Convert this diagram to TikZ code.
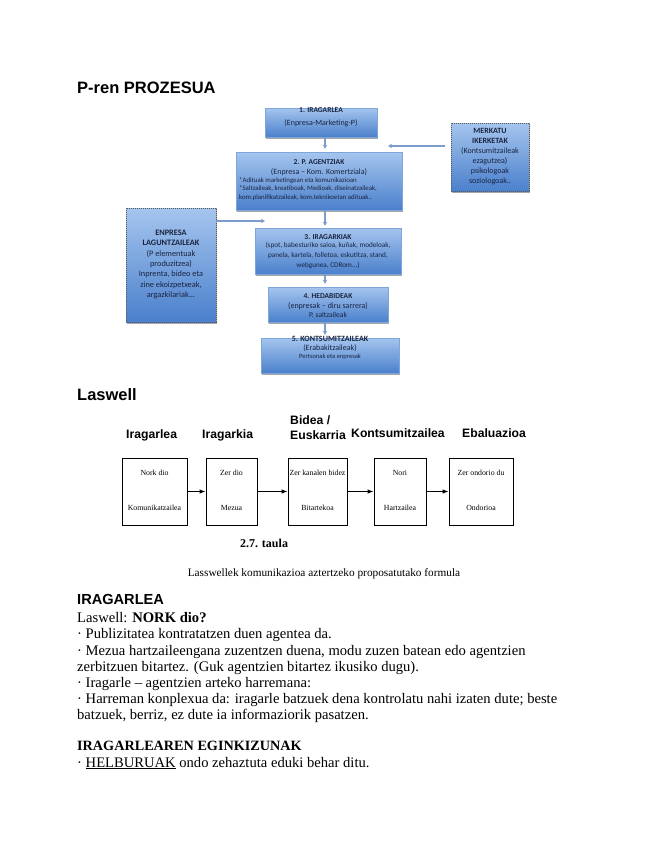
\documentclass[tikz,border=0pt]{standalone}
\usepackage{fontspec}
\setmainfont{Liberation Serif}
\setsansfont{Liberation Sans}
\newfontfamily\carlito{Carlito}
\usetikzlibrary{arrows.meta,shadows}
\definecolor{boxtop}{HTML}{A5C5EE}
\definecolor{boxbot}{HTML}{4A80CC}
\definecolor{boxline}{HTML}{7FA6DA}
\definecolor{arrowc}{HTML}{7C9DCB}
\definecolor{boxtxt}{HTML}{1A2440}
\tikzset{
  pbox/.style={draw=boxline, line width=0.6bp, inner sep=0pt, top color=boxtop, bottom color=boxbot,
    drop shadow={shadow xshift=1.2bp, shadow yshift=-1.5bp, fill=black, opacity=0.35}},
  sbox/.style={pbox, draw=black!65, dashed, dash pattern=on 1bp off 1bp, line width=0.8bp},
  parr/.style={draw=arrowc, line width=1.1bp, -{Stealth[length=4bp,width=4.5bp]}},
  btxt/.style={inner sep=0pt, align=center, text=boxtxt, font=\carlito\fontsize{7.5bp}{9.5bp}\selectfont},
  lbox/.style={draw=black, line width=0.8bp, inner sep=0pt, minimum height=67bp},
  larr/.style={draw=black, line width=1bp, -{Latex[length=6bp,width=4.5bp]}},
  lhead/.style={inner sep=0pt, anchor=base west, font=\sffamily\bfseries\fontsize{12.2bp}{13bp}\selectfont},
  ltxt/.style={inner sep=0pt, font=\fontsize{7.8bp}{9bp}\selectfont},
  body/.style={inner sep=0pt, anchor=base west, font=\fontsize{14.6bp}{16bp}\selectfont},
  htitle/.style={inner sep=0pt, anchor=base west, font=\sffamily\bfseries\fontsize{16.5bp}{18bp}\selectfont}
}
\begin{document}
\begin{tikzpicture}[x=1bp,y=-1bp]
\useasboundingbox[fill=white] (0,0) rectangle (655,848);

% ---------- P-ren PROZESUA ----------
\node[htitle] (t1) at (77,93) {P-ren PROZESUA};

\node[pbox, minimum width=112bp, minimum height=29bp] (b1) at (321,122.5) {};
\node[pbox, minimum width=166bp, minimum height=58bp] (b2) at (319,181) {};
\node[pbox, minimum width=146bp, minimum height=46bp] (b3) at (328,251) {};
\node[pbox, minimum width=120bp, minimum height=35bp] (b4) at (328,304.5) {};
\node[pbox, minimum width=138bp, minimum height=35bp] (b5) at (330,355.5) {};
\node[sbox, minimum width=78bp, minimum height=68bp] (merk) at (490,157) {};
\node[sbox, minimum width=90bp, minimum height=114bp] (enp) at (171,265) {};

\node[btxt] (b1t) at (321,110) {\bfseries 1. IRAGARLEA};
\node[btxt, font=\carlito\fontsize{8bp}{9bp}\selectfont] (b1s) at (321,123) {(Enpresa-Marketing-P)};

\node[btxt] (b2t) at (319,162) {\bfseries 2. P. AGENTZIAK};
\node[btxt, font=\carlito\fontsize{8bp}{9bp}\selectfont] (b2s) at (319,172.5) {(Enpresa – Kom. Komertziala)};
\node[btxt, align=left, anchor=north west, font=\carlito\fontsize{6.8bp}{8.8bp}\selectfont] (b2d) at (239,177)
  {*Adituak marketingean eta komunikazioan\\*Saltzaileak, kreatiboak, Medioak, diseinatzaileak,\\kom.planifikatzaileak, kom.teknikoetan adituak..};

\node[btxt] (b3t) at (328,237) {\bfseries 3. IRAGARKIAK};
\node[btxt, anchor=north, font=\carlito\fontsize{7.2bp}{9.6bp}\selectfont] (b3d) at (328,242.5)
  {(spot, babesturiko saioa, kuñak, modeloak,\\panela, kartela, folletoa, eskutitza, stand,\\webgunea, CDRom...)};

\node[btxt] (b4t) at (328,296) {\bfseries 4. HEDABIDEAK};
\node[btxt, font=\carlito\fontsize{8bp}{9bp}\selectfont] (b4s) at (328,306) {(enpresak – diru sarrera)};
\node[btxt] (b4d) at (328,314.5) {P. saltzaileak};

\node[btxt, font=\carlito\bfseries\fontsize{8bp}{9bp}\selectfont] (b5t) at (330,339) {5. KONTSUMITZAILEAK};
\node[btxt, font=\carlito\fontsize{8bp}{9bp}\selectfont] (b5s) at (330,348) {(Erabakitzaileak)};
\node[btxt, font=\carlito\fontsize{6.5bp}{8bp}\selectfont] (b5d) at (330,357) {Pertsonak eta enpresak};

\node[btxt, anchor=north, font=\carlito\fontsize{8bp}{9.9bp}\selectfont] (merkt) at (490,128.5)
  {\bfseries MERKATU\\\bfseries IKERKETAK\\(Kontsumitzaileak\\ezagutzea)\\psikologoak\\soziologoak..};

\node[btxt, anchor=north, font=\carlito\fontsize{8.3bp}{10.3bp}\selectfont] (enpt) at (171,230)
  {\bfseries ENPRESA\\\bfseries LAGUNTZAILEAK\\(P elementuak\\produzitzea)\\Inprenta, bideo eta\\zine ekoizpetxeak,\\argazkilariak...};

\coordinate (ax) at (325,0);
\draw[parr, shorten >=3bp] (ax |- b1.south) -- (ax |- b2.north);
\draw[parr, shorten >=2bp] (ax |- b2.south) -- (ax |- b3.north);
\draw[parr, shorten >=3bp] (ax |- b3.south) -- (ax |- b4.north);
\draw[parr, shorten >=3bp] (ax |- b4.south) -- (ax |- b5.north);
\coordinate (rin) at (388,146);
\draw[parr, shorten <=6bp] (merk.west |- rin) -- (rin);
\coordinate (lin) at (265,221);
\draw[parr] (enp.east |- lin) -- (lin);

% ---------- Laswell ----------
\node[htitle] (t2) at (77,400) {Laswell};

\node[lhead] (h1) at (126,438) {Iragarlea};
\node[lhead] (h2) at (202,438) {Iragarkia};
\node[lhead] (h3a) at (290,424.5) {Bidea /};
\node[lhead] (h3b) at (290,439) {Euskarria};
\node[lhead] (h4) at (351,437) {Kontsumitzailea};
\node[lhead] (h5) at (462,437) {Ebaluazioa};

\node[lbox, minimum width=65bp] (l1) at (154.5,491.5) {};
\node[lbox, minimum width=51bp] (l2) at (231.5,491.5) {};
\node[lbox, minimum width=59bp] (l3) at (317.5,491.5) {};
\node[lbox, minimum width=52bp] (l4) at (400,491.5) {};
\node[lbox, minimum width=64bp] (l5) at (481,491.5) {};

\node[ltxt] at (154.5,473) {Nork dio};
\node[ltxt] at (154.5,508) {Komunikatzailea};
\node[ltxt] at (231.5,473) {Zer dio};
\node[ltxt] at (231.5,508) {Mezua};
\node[ltxt] at (317.5,473) {Zer kanalen bidez};
\node[ltxt] at (317.5,508) {Bitartekoa};
\node[ltxt] at (400,473) {Nori};
\node[ltxt] at (400,508) {Hartzailea};
\node[ltxt] at (481,473) {Zer ondorio du};
\node[ltxt] at (481,508) {Ondorioa};

\draw[larr] (l1.east) -- (l2.west);
\draw[larr] (l2.east) -- (l3.west);
\draw[larr] (l3.east) -- (l4.west);
\draw[larr] (l4.east) -- (l5.west);

\node[inner sep=0pt, anchor=base, font=\bfseries\fontsize{12bp}{13bp}\selectfont] (cap1) at (264,547) {2.7. taula};
\node[inner sep=0pt, anchor=base, font=\fontsize{11.3bp}{13bp}\selectfont] (cap2) at (324,576.5) {Lasswellek komunikazioa aztertzeko proposatutako formula};

% ---------- IRAGARLEA ----------
\node[inner sep=0pt, anchor=base west, font=\sffamily\bfseries\fontsize{14.6bp}{16bp}\selectfont] (t3) at (77,604) {IRAGARLEA};
\node[body] at (77,622) {Laswell: \textbf{NORK dio?}};
\node[body] at (77,638) {· Publizitatea kontratatzen duen agentea da.};
\node[body] at (77,655) {· Mezua hartzaileengana zuzentzen duena, modu zuzen batean edo agentzien};
\node[body] at (77,671.5) {zerbitzuen bitartez. (Guk agentzien bitartez ikusiko dugu).};
\node[body] at (77,687) {· Iragarle – agentzien arteko harremana:};
\node[body] at (77,703) {· Harreman konplexua da: iragarle batzuek dena kontrolatu nahi izaten dute; beste};
\node[body] at (77,719) {batzuek, berriz, ez dute ia informaziorik pasatzen.};
\node[body, font=\bfseries\fontsize{14.2bp}{16bp}\selectfont] at (77,750) {IRAGARLEAREN EGINKIZUNAK};
\node[body] at (77,767) {· \underline{HELBURUAK} ondo zehaztuta eduki behar ditu.};
\end{tikzpicture}
\end{document}
